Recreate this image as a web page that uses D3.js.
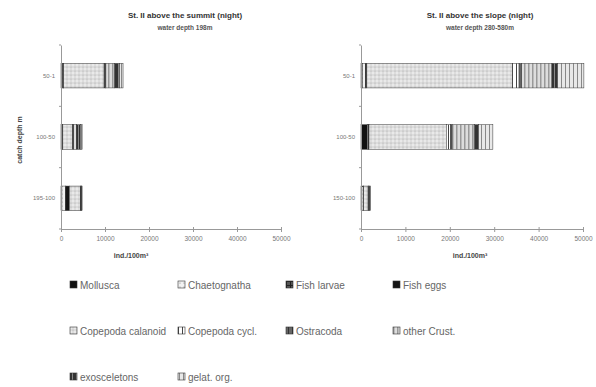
<!DOCTYPE html>
<html><head><meta charset="utf-8">
<script src="https://cdn.jsdelivr.net/npm/d3@7"></script>
<style>
html,body{margin:0;padding:0;background:#fff;}
svg{display:block;font-family:"Liberation Sans",Arial,sans-serif;}
</style></head>
<body>
<svg id="c" width="596" height="387"></svg>
<script>
// ---- data ----
const seriesNames = ["Mollusca","Chaetognatha","Fish larvae","Fish eggs","Copepoda calanoid","Copepoda cycl.","Ostracoda","other Crust.","exosceletons","gelat. org."];
const summitDepths = ["50-1","100-50","195-100"];
const slopeDepths = ["50-1","100-50","150-100"];
const summit_50_1   = [400,100,50,50,9200,300,100,2000,1100,800];
const summit_100_50 = [100,200,50,50,2200,200,100,600,900,400];
const summit_195_100= [200,800,100,800,2500,100,50,100,50,100];
const slope_50_1    = [300,700,100,200,32800,1500,600,6800,1200,6000];
const slope_100_50  = [1400,200,100,100,17400,1000,300,5000,1000,3200];
const slope_150_100 = [200,300,50,50,1000,100,50,200,100,100];
const xTicks = [0,10000,20000,30000,40000,50000];
const titles = ["St. II above the summit (night)","St. II above the slope (night)"];
const subtitles = ["water depth 198m","water depth 280-580m"];
const xTitle = "ind./100m³";
const yTitle = "catch depth m";

const svg = d3.select("#c");
const defs = svg.append("defs");

function pat(id, bg, draw){
  const p = defs.append("pattern").attr("id",id).attr("patternUnits","userSpaceOnUse").attr("width",4).attr("height",4);
  p.append("rect").attr("width",4).attr("height",4).attr("fill",bg);
  draw(p);
}
pat("p0","#111",p=>{});
pat("p1","#f2f2f2",p=>{p.append("circle").attr("cx",2).attr("cy",2).attr("r",0.6).attr("fill","#888");});
pat("p2","#555",p=>{p.append("rect").attr("width",1).attr("height",4).attr("fill","#222");p.append("rect").attr("width",4).attr("height",1).attr("fill","#222");});
pat("p3","#151515",p=>{});
pat("p4","#dcdcdc",p=>{p.append("circle").attr("cx",1).attr("cy",1).attr("r",0.8).attr("fill","#fafafa");p.append("circle").attr("cx",3).attr("cy",3).attr("r",0.5).attr("fill","#999");});
pat("p5","#fff",p=>{p.append("rect").attr("x",0).attr("width",1).attr("height",4).attr("fill","#444");});
pat("p6","#666",p=>{p.append("rect").attr("x",2).attr("width",1).attr("height",4).attr("fill","#333");});
pat("p7","#ddd",p=>{p.append("rect").attr("x",0).attr("width",1.5).attr("height",4).attr("fill","#999");});
pat("p8","#333",p=>{p.append("rect").attr("x",2).attr("width",1).attr("height",4).attr("fill","#888");});
pat("p9","#e8e8e8",p=>{p.append("rect").attr("x",1).attr("width",1).attr("height",4).attr("fill","#888");});

const fills = seriesNames.map((d,i)=>"url(#p"+i+")");

function panel(cfg){
  const x = d3.scaleLinear().domain([0,50000]).range([cfg.x0,cfg.x1]);
  const y = d3.scaleBand().domain(cfg.depths).range([45,229]).paddingInner(0.6).paddingOuter(0.3);
  const rows = cfg.depths.map((d,j)=>{const o={depth:d}; seriesNames.forEach((s,i)=>o[s]=cfg.values[j][i]); return o;});
  const stack = d3.stack().keys(seriesNames)(rows);
  const g = svg.append("g");
  stack.forEach((layer,i)=>{
    g.selectAll(null).data(layer).enter().append("rect")
      .attr("x",d=>x(d[0])).attr("width",d=>Math.max(0,x(d[1])-x(d[0])))
      .attr("y",d=>y(d.data.depth)).attr("height",y.bandwidth())
      .attr("fill",fills[i]).attr("stroke","#333").attr("stroke-width",0.5);
  });
  const xa = g.append("g").attr("transform","translate(0,229)")
    .call(d3.axisBottom(x).tickValues(xTicks).tickSize(3).tickFormat(d3.format("d")));
  xa.select(".domain").attr("stroke","#999");
  xa.selectAll(".tick line").attr("stroke","#999").attr("y1",-2);
  xa.selectAll(".tick text").attr("fill","#777").attr("font-size",6.5).attr("dy","0.9em");
  const ya = g.append("g").attr("transform","translate("+cfg.x0+",0)")
    .call(d3.axisLeft(y).tickSize(0).tickPadding(6));
  ya.select(".domain").attr("stroke","#999");
  ya.selectAll(".tick text").attr("fill","#777").attr("font-size",6);
  const c = cfg.depths.map(d=>y(d)+y.bandwidth()/2);
  const bounds = [45].concat(c.slice(1).map((v,i)=>(v+c[i])/2)).concat([229]);
  g.selectAll(null).data(bounds).enter().append("line")
    .attr("x1",cfg.x0-2).attr("x2",cfg.x0).attr("y1",d=>d).attr("y2",d=>d).attr("stroke","#999");
  g.append("text").attr("x",cfg.tx).attr("y",18).attr("text-anchor","middle").attr("font-size",8).attr("font-weight","bold").attr("fill","#333").text(cfg.title);
  g.append("text").attr("x",cfg.tx).attr("y",30).attr("text-anchor","middle").attr("font-size",6.5).attr("font-weight","bold").attr("fill","#555").text(cfg.sub);
  g.append("text").attr("x",cfg.xtx).attr("y",258).attr("text-anchor","middle").attr("font-size",7).attr("font-weight","bold").attr("fill","#444").text(xTitle);
}

panel({x0:61,x1:281,depths:summitDepths,values:[summit_50_1,summit_100_50,summit_195_100],title:titles[0],sub:subtitles[0],tx:185,xtx:131});
panel({x0:361,x1:583,depths:slopeDepths,values:[slope_50_1,slope_100_50,slope_150_100],title:titles[1],sub:subtitles[1],tx:480,xtx:470});

svg.append("text").attr("transform","translate(22,140) rotate(-90)").attr("text-anchor","middle")
  .attr("font-size",7).attr("font-weight","bold").attr("fill","#444").text(yTitle);

const colX = [70,178,286,393];
const rowY = [285,331,377];
const leg = svg.append("g").selectAll("g").data(seriesNames).enter().append("g")
  .attr("transform",(d,i)=>"translate("+colX[i%4]+","+rowY[Math.floor(i/4)]+")");
leg.append("rect").attr("x",0).attr("y",-4).attr("width",7).attr("height",7)
  .attr("fill",(d,i)=>fills[i]).attr("stroke","#333").attr("stroke-width",0.6);
leg.append("text").attr("x",10).attr("y",0).attr("dy","0.35em").attr("font-size",10)
  .attr("fill","#666").text(d=>d);
</script>
</body></html>
